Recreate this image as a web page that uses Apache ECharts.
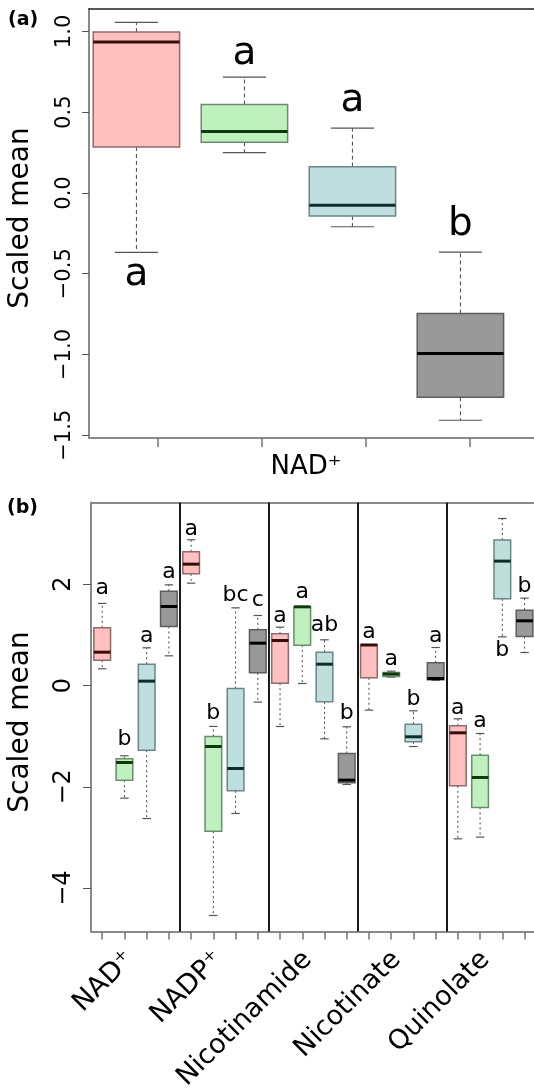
<!DOCTYPE html>
<html>
<head>
<meta charset="utf-8">
<script src="https://cdn.jsdelivr.net/npm/echarts@6/dist/echarts.min.js"></script>
<style>
  html, body { margin: 0; padding: 0; background: #fff; }
  #chart { width: 534px; height: 1088px; }
</style>
</head>
<body>
<div id="chart"></div>
<script>
// panel (a): one box per treatment, [min, Q1, median, Q3, max]
var boxesA = [
    [-0.368, 0.285, 0.934, 0.996, 1.056],
    [0.250, 0.314, 0.380, 0.548, 0.717],
    [-0.209, -0.143, -0.076, 0.163, 0.401],
    [-1.407, -1.265, -0.994, -0.746, -0.366]
];
var lettersA = ['a', 'a', 'a', 'b'];
var letterYA = [-0.51, 0.86, 0.57, -0.20];
var ticksA = [-1.5, -1.0, -0.5, 0.0, 0.5, 1.0];

// panel (b): 5 compounds x 4 treatments
var groupsB = ['NAD⁺', 'NADP⁺', 'Nicotinamide', 'Nicotinate', 'Quinolate'];
var boxesB = [
    [0.33, 0.50, 0.658, 1.139, 1.62],
    [-2.223, -1.868, -1.52, -1.447, -1.387],
    [-2.625, -1.276, 0.086, 0.421, 0.744],
    [0.586, 1.165, 1.56, 1.862, 1.987],

    [2.02, 2.204, 2.395, 2.639, 2.876],
    [-4.539, -2.874, -1.204, -1.006, -0.808],
    [-2.526, -2.078, -1.638, -0.059, 1.533],
    [-0.328, 0.25, 0.836, 1.099, 1.382],

    [-0.809, 0.046, 0.888, 1.02, 1.152],
    [0.04, 0.797, 1.553, 1.555, 1.56],
    [-1.052, -0.322, 0.421, 0.658, 0.902],
    [-1.953, -1.92, -1.868, -1.342, -0.815],

    [-0.486, 0.152, 0.80, 0.803, 0.806],
    [0.166, 0.178, 0.225, 0.257, 0.284],
    [-1.204, -1.111, -1.012, -0.763, -0.499],
    [0.099, 0.112, 0.138, 0.448, 0.75],

    [-3.026, -1.98, -0.934, -0.795, -0.657],
    [-2.992, -2.407, -1.815, -1.374, -0.947],
    [0.961, 1.711, 2.455, 2.87, 3.296],
    [0.651, 0.967, 1.277, 1.487, 1.724]
];
var lettersB = ['a', 'b', 'a', 'a',  'a', 'b', 'bc', 'c',  'a', 'a', 'ab', 'b',  'a', 'a', 'b', 'a',  'a', 'a', 'b', 'b'];
var letterYB = [1.915, -1.07, 0.98, 2.23,  3.087, -0.545, 1.79, 1.69,  1.376, 1.836, 1.184, -0.545,
                1.046, 0.52, -0.28, 0.967,  -0.446, -0.71, 0.705, 1.968];
var ticksB = [-4, -2, 0, 2];

var fills = ['#ffbfbf', '#bff1bf', '#bfdfdf', '#999999'];
var borders = ['#8c6c6c', '#6c8c6c', '#6a8686', '#5e5e5e'];
var medians = ['#3a0d0d', '#0e3a0e', '#0e2e2e', '#000000'];

var dom = document.getElementById('chart');
var chart = echarts.init(dom);

function makeRender(halfW, capHalf, dash, medW) {
    return function (params, api) {
        var x = api.value(0);
        var k = params.dataIndex % 4;
        var lo = api.coord([x, api.value(1)]);
        var q1 = api.coord([x, api.value(2)]);
        var md = api.coord([x, api.value(3)]);
        var q3 = api.coord([x, api.value(4)]);
        var hi = api.coord([x, api.value(5)]);
        var hw = api.size([halfW, 0])[0];
        var cw = api.size([capHalf, 0])[0];
        var cx = lo[0];
        var whisk = { stroke: '#444', lineWidth: 1, lineDash: dash };
        var cap = { stroke: '#555', lineWidth: 1.2 };
        return {
            type: 'group',
            children: [
                { type: 'line', shape: { x1: cx, y1: q3[1], x2: cx, y2: hi[1] }, style: whisk },
                { type: 'line', shape: { x1: cx, y1: q1[1], x2: cx, y2: lo[1] }, style: whisk },
                { type: 'line', shape: { x1: cx - cw, y1: hi[1], x2: cx + cw, y2: hi[1] }, style: cap },
                { type: 'line', shape: { x1: cx - cw, y1: lo[1], x2: cx + cw, y2: lo[1] }, style: cap },
                { type: 'rect', shape: { x: cx - hw, y: q3[1], width: 2 * hw, height: q1[1] - q3[1] },
                  style: { fill: fills[k], stroke: borders[k], lineWidth: 1.5 } },
                { type: 'line', shape: { x1: cx - hw, y1: md[1], x2: cx + hw, y2: md[1] },
                  style: { stroke: medians[k], lineWidth: medW } }
            ]
        };
    };
}

function makeLetters(size) {
    return function (params, api) {
        var p = api.coord([api.value(0), api.value(1)]);
        return {
            type: 'text', x: p[0], y: p[1],
            style: { text: api.value(2), fontSize: size, fontFamily: 'DejaVu Sans', fill: '#000',
                     align: 'center', verticalAlign: 'middle' }
        };
    };
}

function minusFmt(v) {
    return String(v).replace('-', '\u2212');
}

var frame = { onZero: false, lineStyle: { color: '#8a8a8a', width: 2 } };
var labelPosB = [1.25, 5.25, 9.25, 13.25, 17.25];

var option = {
    animation: false,
    textStyle: { fontFamily: 'DejaVu Sans', color: '#000' },
    grid: [
        { left: 89, top: 9, width: 455, height: 429, outerBoundsMode: 'none', containLabel: false },
        { left: 91, top: 502.5, width: 450, height: 429, outerBoundsMode: 'none', containLabel: false }
    ],
    xAxis: [
        {
            gridIndex: 0, type: 'value', min: -0.439, max: 3.774,
            splitLine: { show: false },
            axisLine: frame,
            axisTick: { customValues: [0.194, 1.159, 2.124, 3.089], length: 9, lineStyle: { color: '#777', width: 1.5 } },
            axisLabel: { show: false }
        },
        {
            gridIndex: 0, type: 'value', position: 'top', min: -0.439, max: 3.774,
            splitLine: { show: false },
            axisLine: { onZero: false, lineStyle: { color: '#222', width: 1.5 } },
            axisTick: { show: false }, axisLabel: { show: false }
        },
        {
            gridIndex: 1, type: 'value', min: -0.504, max: 19.74,
            splitLine: { show: false },
            axisLine: frame,
            axisTick: { customValues: boxesB.map(function (b, i) { return i; }), length: 8, lineStyle: { color: '#777', width: 1.5 } },
            axisLabel: {
                customValues: labelPosB,
                rotate: 45, fontSize: 27, margin: 24, color: '#000',
                formatter: function (v) { return groupsB[labelPosB.indexOf(v)]; }
            }
        },
        {
            gridIndex: 1, type: 'value', position: 'top', min: -0.504, max: 19.74,
            splitLine: { show: false },
            axisLine: frame,
            axisTick: { show: false }, axisLabel: { show: false }
        }
    ],
    yAxis: [
        {
            gridIndex: 0, type: 'value', min: -1.517, max: 1.139,
            splitLine: { show: false },
            axisLine: frame,
            axisTick: { customValues: ticksA, length: 7, lineStyle: { color: '#555', width: 1 } },
            axisLabel: {
                customValues: ticksA, rotate: 90, fontSize: 21, margin: 14, color: '#000',
                formatter: function (v) { return minusFmt(v.toFixed(1)); }
            }
        },
        {
            gridIndex: 1, type: 'value', min: -4.855, max: 3.612,
            splitLine: { show: false },
            axisLine: frame,
            axisTick: { customValues: ticksB, length: 8, lineStyle: { color: '#555', width: 1 } },
            axisLabel: {
                customValues: ticksB, rotate: 90, fontSize: 24, margin: 15, color: '#000',
                formatter: function (v) { return minusFmt(v); }
            }
        }
    ],
    series: [
        {
            type: 'custom', xAxisIndex: 0, yAxisIndex: 0,
            renderItem: makeRender(0.4, 0.2, [4, 3], 3),
            encode: { x: 0, y: [1, 2, 3, 4, 5] },
            data: boxesA.map(function (b, i) { return [i].concat(b); })
        },
        {
            type: 'custom', xAxisIndex: 2, yAxisIndex: 1,
            renderItem: makeRender(0.375, 0.19, [2, 3], 3),
            encode: { x: 0, y: [1, 2, 3, 4, 5] },
            data: boxesB.map(function (b, i) { return [i].concat(b); }),
            markLine: {
                silent: true, symbol: ['none', 'none'],
                label: { show: false },
                lineStyle: { color: '#1a1a1a', width: 2, type: 'solid' },
                data: [{ xAxis: 3.5 }, { xAxis: 7.5 }, { xAxis: 11.5 }, { xAxis: 15.5 }]
            }
        },
        {
            type: 'custom', xAxisIndex: 0, yAxisIndex: 0, z: 5,
            renderItem: makeLetters(39),
            encode: { x: 0, y: 1 },
            data: lettersA.map(function (t, i) { return [i, letterYA[i], t]; })
        },
        {
            type: 'custom', xAxisIndex: 2, yAxisIndex: 1, z: 5,
            renderItem: makeLetters(22),
            encode: { x: 0, y: 1 },
            data: lettersB.map(function (t, i) { return [i, letterYB[i], t]; })
        }
    ],
    graphic: [
        { type: 'text', left: 8, top: 11, style: { text: '(a)', fontSize: 19, fontWeight: 'bold', fontFamily: 'DejaVu Sans', fill: '#000' } },
        { type: 'text', left: 7, top: 499, style: { text: '(b)', fontSize: 19, fontWeight: 'bold', fontFamily: 'DejaVu Sans', fill: '#000' } },
        { type: 'text', x: 21, y: 218, rotation: Math.PI / 2,
          style: { text: 'Scaled mean', fontSize: 28, fontFamily: 'DejaVu Sans', fill: '#000', align: 'center', verticalAlign: 'middle' } },
        { type: 'text', x: 21, y: 722, rotation: Math.PI / 2,
          style: { text: 'Scaled mean', fontSize: 28, fontFamily: 'DejaVu Sans', fill: '#000', align: 'center', verticalAlign: 'middle' } },
        { type: 'text', x: 306, y: 467,
          style: { text: 'NAD⁺', fontSize: 26, fontFamily: 'DejaVu Sans', fill: '#000', align: 'center', verticalAlign: 'middle' } }
    ]
};
chart.setOption(option, true);
</script>
</body>
</html>
